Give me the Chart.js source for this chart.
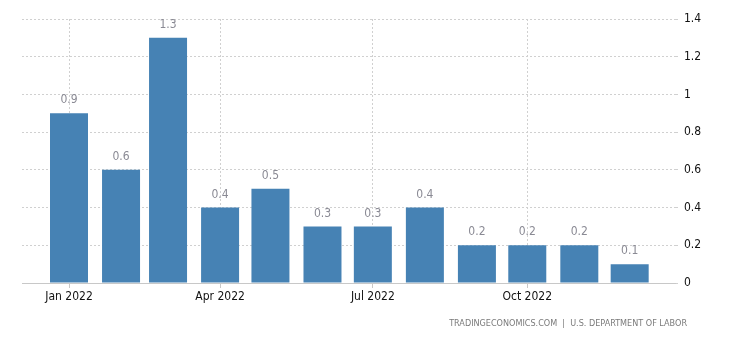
<!DOCTYPE html>
<html>
<head>
<meta charset="utf-8">
<script src="https://cdn.jsdelivr.net/npm/chart.js@4"></script>
<style>
  html, body { margin: 0; padding: 0; background: #fff; }
  #wrap { position: relative; width: 730px; height: 350px; }
</style>
</head>
<body>
<div id="wrap"><canvas id="chartContainer" width="730" height="350"></canvas></div>
<script>
// monthly change, 2022
var months = ['2022-01-01','2022-02-01','2022-03-01','2022-04-01','2022-05-01','2022-06-01',
              '2022-07-01','2022-08-01','2022-09-01','2022-10-01','2022-11-01','2022-12-01']
var values = [0.9, 0.6, 1.3, 0.4, 0.5, 0.3, 0.3, 0.4, 0.2, 0.2, 0.2, 0.1]
var tickMonths = ['2022-01-01','2022-04-01','2022-07-01','2022-10-01']
var tickLabels = ['Jan 2022','Apr 2022','Jul 2022','Oct 2022']
var yTicks = [0, 0.2, 0.4, 0.6, 0.8, 1, 1.2, 1.4]
var source = 'TRADINGECONOMICS.COM  |  U.S. DEPARTMENT OF LABOR'

var DAY = 86400000
var start = Date.UTC(2022, 0, 1)
function dayOf(s) { return (Date.parse(s + 'T00:00:00Z') - start) / DAY }

var points = []
for (var i = 0; i < months.length; i++) {
  points.push({x: dayOf(months[i]), y: values[i]})
}
var tickDays = tickMonths.map(dayOf)

var FONT = 'Tahoma, "DejaVu Sans Condensed", "Liberation Sans", sans-serif'

// value above each bar + source line at bottom
var labelsPlugin = {
  id: 'labels',
  afterDatasetsDraw: function(chart) {
    var ctx = chart.ctx
    var meta = chart.getDatasetMeta(0)
    ctx.save()
    ctx.font = '12px ' + FONT
    ctx.fillStyle = '#8a8a94'
    ctx.textAlign = 'center'
    ctx.textBaseline = 'bottom'
    meta.data.forEach(function(bar, i) {
      ctx.fillText(values[i], bar.x, bar.y - 7)
    })
    ctx.font = '9px ' + FONT
    ctx.fillStyle = '#7a7a7a'
    ctx.textAlign = 'right'
    ctx.textBaseline = 'middle'
    ctx.fillText(source, 687, 324)
    ctx.restore()
  }
}

new Chart(chartContainer, {
  type: 'bar',
  data: {
    datasets: [{
      data: points,
      backgroundColor: '#4682b4',
      barThickness: 38,
      inflateAmount: 0
    }]
  },
  options: {
    responsive: false,
    animation: false,
    layout: { padding: { left: 22, top: 19, right: 0, bottom: 0 } },
    plugins: { legend: { display: false }, tooltip: { enabled: false } },
    scales: {
      x: {
        type: 'linear',
        offset: false,
        min: -28,
        max: 361,
        afterFit: function(s) { s.height = 67 },
        afterBuildTicks: function(s) {
          s.ticks = tickDays.map(function(d) { return {value: d} })
        },
        ticks: {
          autoSkip: false,
          maxRotation: 0,
          padding: 2,
          color: '#111',
          font: { family: FONT, size: 12 },
          callback: function(v) { return tickLabels[tickDays.indexOf(v)] }
        },
        grid: {
          offset: false,
          color: '#d0d0d0',
          tickColor: '#c8c8c8',
          tickLength: 5
        },
        border: { display: true, color: '#c8c8c8', dash: [2, 2] }
      },
      y: {
        position: 'right',
        min: 0,
        max: 1.4,
        afterFit: function(s) { s.width = 55 },
        afterBuildTicks: function(s) {
          s.ticks = yTicks.map(function(v) { return {value: v} })
        },
        ticks: {
          padding: 6,
          color: '#111',
          font: { family: FONT, size: 12 },
          callback: function(v) { return String(+v.toFixed(1)) }
        },
        grid: {
          color: '#d0d0d0',
          drawTicks: true,
          tickLength: 3,
          tickColor: '#d0d0d0'
        },
        border: { display: false, dash: [2, 2] }
      }
    }
  },
  plugins: [labelsPlugin]
})
</script>
</body>
</html>
